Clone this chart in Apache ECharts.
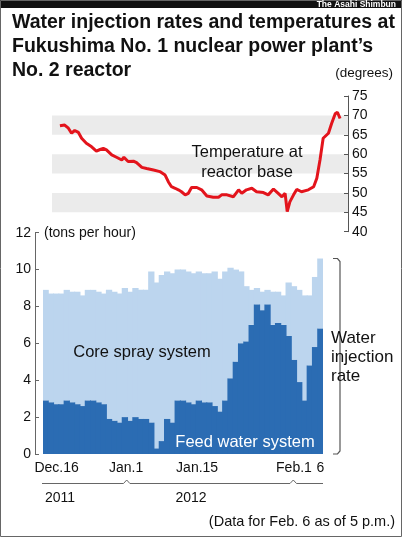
<!DOCTYPE html>
<html>
<head>
<meta charset="utf-8">
<script src="https://cdn.jsdelivr.net/npm/echarts@6/dist/echarts.min.js"></script>
<style>
html, body { margin: 0; padding: 0; background: #fff; }
#main { width: 402px; height: 537px; }
</style>
</head>
<body>
<div id="main"></div>
<script>
// daily water injection, Dec.16 2011 .. Feb.6 2012 (tons per hour)
var days = ['12/16','12/17','12/18','12/19','12/20','12/21','12/22','12/23','12/24','12/25','12/26','12/27','12/28','12/29','12/30','12/31',
  '1/1','1/2','1/3','1/4','1/5','1/6','1/7','1/8','1/9','1/10','1/11','1/12','1/13','1/14','1/15','1/16','1/17','1/18','1/19','1/20',
  '1/21','1/22','1/23','1/24','1/25','1/26','1/27','1/28','1/29','1/30','1/31','2/1','2/2','2/3','2/4','2/5','2/6']
var feedWater = [2.9,2.8,2.7,2.7,2.9,2.8,2.7,2.6,2.9,2.9, 2.8,2.7,1.9,1.8,1.7,2.0,1.8,2.0,1.9,1.9,
  1.7,0.3,0.7,1.9,1.7,2.9,2.9,2.8,2.7,2.9, 2.8,2.8,2.6,2.3,2.9,4.1,5.0,6.0,6.1,7.0,
  8.1,7.8,8.1,7.0,7.1,7.0,6.4,5.1,3.9,2.9, 4.8,5.8,6.8]
var coreSpray = [6.0,5.9,6.0,6.0,6.0,6.0,6.1,6.0,6.0,6.0, 6.0,6.0,7.0,7.0,7.0,7.0,7.0,7.0,7.0,7.0,
  8.2,9.0,9.0,8.0,8.1,7.1,7.1,7.1,7.1,7.0, 7.0,7.0,7.3,7.2,7.0,6.0,5.0,3.9,3.0,1.9,
  0.9,1.0,0.8,1.8,1.7,1.6,2.9,4.0,5.0,5.7, 3.8,3.8,3.8]
var dayLabels = { '12/16': 'Dec.16', '1/1': 'Jan.1', '1/15': 'Jan.15', '2/1': 'Feb.1', '2/6': '6' }
var rateTicks = [0, 2, 4, 6, 8, 10, 12]

// temperature at reactor base (degrees), x = days since Dec.16
var tempDays = [0,0.9,1.6,2.2,2.8,3.5,4.1,5.0,6.0,6.9, 7.6,8.2,8.8,9.8,10.7,11.7,12.1,12.9,13.9,14.5,
  15.5,16.4,17.7,18.9,19.9,20.5,21.1,21.8,22.4,23.0, 23.7,24.3,24.9,25.9,26.8,27.8,29.0,30.0,30.6,31.6,
  32.8,33.8,34.4,35.3,36.3,37.2,38.5,39.4,40.4,41.3, 42.0,42.6,43.0,43.5,44.2,44.8,45.7,47.0,48.0,48.6,
  49.2,49.8,50.8,51.4,52.1,52.5,53.0]
var tempValues = [67.3,67.5,66.7,65.4,66.1,65.6,64.1,62.8,61.9,60.8, 61.2,61.5,61.1,59.8,59.2,58.5,59.2,58.1,58.2,57.8,
  56.6,56.3,55.9,55.5,54.6,52.9,51.6,51.2,50.8,50.3, 49.5,49.9,51.4,51.4,50.8,49.2,48.9,48.9,49.5,49.5,
  49.0,50.8,49.9,50.8,51.2,50.3,50.1,49.5,51.0,49.9, 49.0,49.9,45.2,47.7,49.5,50.9,50.3,50.8,51.6,53.8,
  58.5,64.1,65.4,67.9,70.5,70.8,69.2]
var tempTicks = [40, 45, 50, 55, 60, 65, 70, 75]

var FONT = "'Liberation Sans', Arial, sans-serif"
var DARK = '#2b6cb3'
var LIGHT = '#bcd5ee'

var tempLine = tempDays.map(function (d, i) { return [d, tempValues[i]] })

function txt(x, y, s, size, opt) {
  opt = opt || {}
  return {
    type: 'text', x: x, y: y, z: 10,
    style: {
      text: s, fontFamily: FONT, fontSize: size,
      fontWeight: opt.bold ? 'bold' : 'normal',
      fill: opt.color || '#111',
      align: opt.align || 'left', verticalAlign: 'middle'
    }
  }
}

var chart = echarts.init(document.getElementById('main'))
chart.setOption({
  animation: false,
  textStyle: { fontFamily: FONT },
  grid: [
    { left: 52, right: 54, top: 96, bottom: 305.3 },
    { left: 43, right: 79, top: 232.7, bottom: 83 }
  ],
  xAxis: [
    { type: 'value', gridIndex: 0, min: -1.5, max: 54.5, show: false },
    {
      type: 'category', gridIndex: 1, data: days,
      axisLine: { show: false }, axisTick: { show: false },
      axisLabel: {
        interval: 0, margin: 7, fontSize: 14, color: '#111',
        formatter: function (v) {
          if (!dayLabels[v]) return ''
          if (v === '12/16') return '{a|' + dayLabels[v] + '}'
          if (v === '1/15') return '{b|' + dayLabels[v] + '}'
          if (v === '1/1') return '{c|' + dayLabels[v] + '}'
          return dayLabels[v]
        },
        rich: {
          a: { fontSize: 14, color: '#111', padding: [0, 0, 0, 22] },
          b: { fontSize: 14, color: '#111', padding: [0, 14, 0, 0] },
          c: { fontSize: 14, color: '#111', padding: [0, 8, 0, 0] }
        }
      }
    }
  ],
  yAxis: [
    {
      type: 'value', gridIndex: 0, position: 'right',
      min: tempTicks[0], max: tempTicks[tempTicks.length - 1], interval: 5,
      axisLine: { show: true, onZero: false, lineStyle: { color: '#555', width: 1 } },
      axisTick: { show: true, inside: true, length: 4, lineStyle: { color: '#555' } },
      axisLabel: { fontSize: 14, color: '#111', margin: 4 },
      splitLine: { show: false },
      splitArea: { show: true, areaStyle: { color: ['rgba(255,255,255,0)', '#ebebeb'] } }
    },
    {
      type: 'value', gridIndex: 1, position: 'left', offset: 8,
      min: rateTicks[0], max: rateTicks[rateTicks.length - 1], interval: 2,
      axisLine: { show: true, onZero: false, lineStyle: { color: '#666', width: 1 } },
      axisTick: { show: true, inside: true, length: 4, lineStyle: { color: '#666' } },
      axisLabel: { fontSize: 14, color: '#111', margin: 4 },
      splitLine: { show: false }
    }
  ],
  series: [
    {
      name: 'Temperature', type: 'line', xAxisIndex: 0, yAxisIndex: 0,
      data: tempLine, symbol: 'none',
      lineStyle: { color: '#e3141c', width: 3 }
    },
    {
      name: 'Feed water system', type: 'bar', xAxisIndex: 1, yAxisIndex: 1,
      stack: 'rate', data: feedWater, barWidth: 6.3, z: 3,
      itemStyle: { color: DARK }
    },
    {
      name: 'Core spray system', type: 'bar', xAxisIndex: 1, yAxisIndex: 1,
      stack: 'rate', data: coreSpray, barWidth: 6.3, z: 2,
      itemStyle: { color: LIGHT }
    }
  ],
  graphic: [
    { type: 'rect', shape: { x: 0, y: 0, width: 402, height: 8 }, style: { fill: '#111' } },
    txt(396, 4.5, 'The Asahi Shimbun', 8.5, { color: '#fff', align: 'right', bold: true }),
    { type: 'rect', shape: { x: 0.5, y: 0.5, width: 401, height: 536 }, style: { fill: 'none', stroke: '#666', lineWidth: 1 } },
    txt(12, 23, 'Water injection rates and temperatures at', 19.5, { bold: true }),
    txt(12, 47, 'Fukushima No. 1 nuclear power plant\u2019s', 19.5, { bold: true }),
    txt(12, 71, 'No. 2 reactor', 19.5, { bold: true }),
    txt(393, 73, '(degrees)', 13.5, { align: 'right' }),
    txt(247, 152, 'Temperature at', 16.5, { align: 'center' }),
    txt(247, 172, 'reactor base', 16.5, { align: 'center' }),
    txt(44, 233, '(tons per hour)', 14),
    txt(142, 352, 'Core spray system', 16.5, { align: 'center' }),
    txt(245, 442, 'Feed water system', 16.5, { align: 'center', color: '#fff' }),
    txt(331, 338, 'Water', 17),
    txt(331, 357, 'injection', 17),
    txt(331, 376, 'rate', 17),
    {
      type: 'polyline',
      shape: { points: [[333, 258.5], [337.5, 258.5], [340, 261.5], [340, 451], [337.5, 454], [333, 454]] },
      style: { stroke: '#555', lineWidth: 1.2, fill: 'none' }
    },
    {
      type: 'polyline',
      shape: { points: [[42, 483.5], [123.5, 483.5], [126.7, 480], [129.9, 483.5], [290, 483.5], [293.3, 480], [296.5, 483.5], [323, 483.5]] },
      style: { stroke: '#666', lineWidth: 1, fill: 'none' }
    },
    txt(60, 498, '2011', 14, { align: 'center' }),
    txt(191, 498, '2012', 14, { align: 'center' }),
    txt(395, 522, '(Data for Feb. 6 as of 5 p.m.)', 14.5, { align: 'right' })
  ]
})
</script>
</body>
</html>
